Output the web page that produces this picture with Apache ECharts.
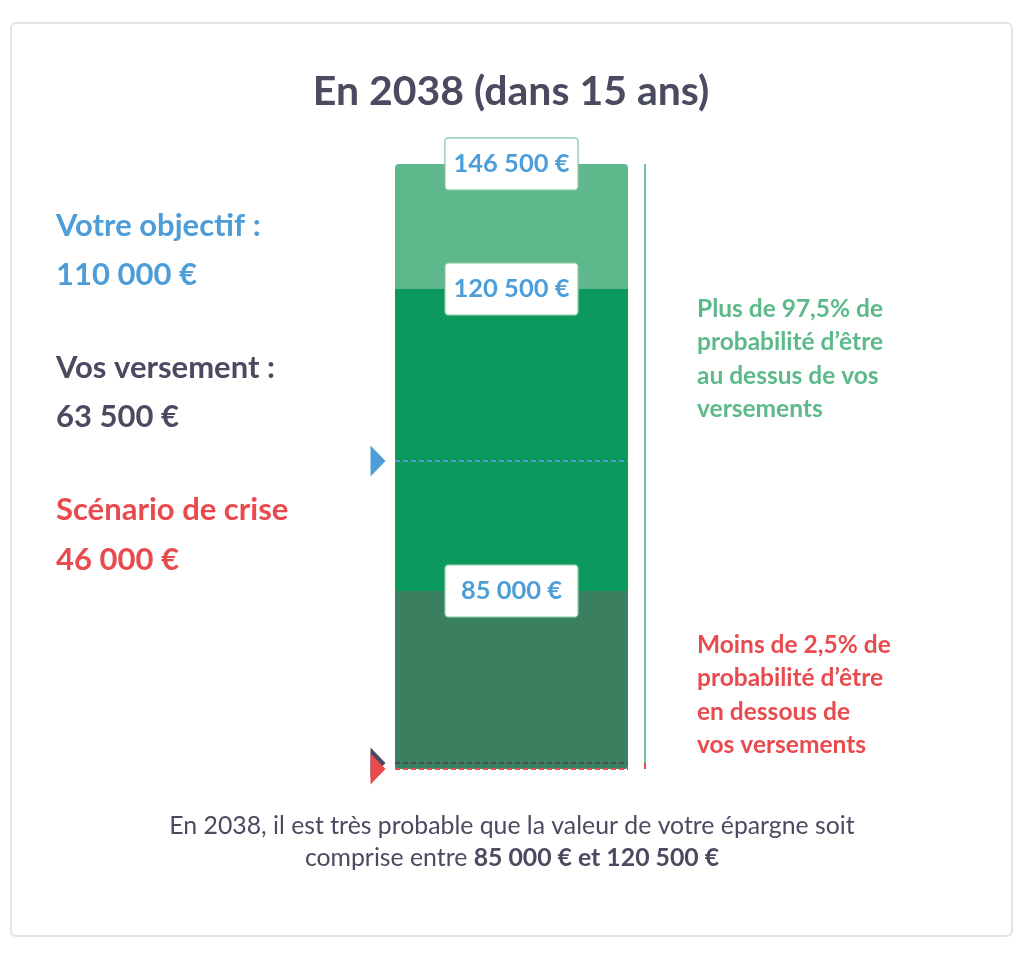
<!DOCTYPE html>
<html><head><meta charset="utf-8">
<script src="https://cdn.jsdelivr.net/npm/echarts@6/dist/echarts.min.js"></script>
<style>
html,body{margin:0;padding:0;background:#fff;}
#card{position:absolute;left:10px;top:22px;width:999px;height:911px;border:2px solid #e4e4e4;border-radius:6px;box-sizing:content-box;}
#chart{position:absolute;left:0;top:0;width:1024px;height:977px;}
</style>
</head><body><div id="card"></div><div id="chart"></div>
<script>
// ---- data ----
const year = [2038];
const horizonYears = [15];
const categories = ['2038'];
const bandBounds = [146500, 120500, 110000, 85000, 63500, 46000]; // descending
const boxValues = [146500, 120500, 85000];
const rangeLow = [85000];
const rangeHigh = [120500];
const objectif = [110000];
const versements = [63500];
const crise = [46000];
const probaAbove = [97.5];
const probaBelow = [2.5];

// ---- layout & style ----
const FONT = 'Lato';
const C = { light: '#5eb88c', mid: '#0c995e', dark: '#3a8060', blue: '#4d9dd8', ink: '#4a4a60', red: '#e84a4e', green: '#5cb98a', lineGreen: '#6dc49b', boxBorder: '#7cc8a0' };
const barLeft = 395, barWidth = 233, barTop = 164, lineLeft = 644, lineWidth = 2;
const bandPx = [125, 172, 130, 172, 6];
const TRI = 'path://M0,0L1,0.5L0,1Z';

const fmtEuro = v => String(v).replace(/\B(?=(\d{3})+(?!\d))/g, ' ') + ' €';
const fmtPct = v => String(v).replace('.', ',') + '%';

const grid = [], xAxis = [], yAxis = [], series = [];
const nb = bandBounds.length - 1;
let tops = [], t = barTop;
for (let i = 0; i < nb; i++) { tops.push(t); t += bandPx[i]; }

const markers = [
  { v: objectif[0], color: C.blue },
  { v: versements[0], color: C.ink },
  { v: crise[0], color: C.red }
];
function bandOf(v) {
  for (let i = 0; i < nb; i++) if (v > bandBounds[i + 1] && v <= bandBounds[i]) return i;
  return nb - 1;
}
const barGridIdx = [];

for (let i = 0; i < nb; i++) {
  const upper = bandBounds[i], lower = bandBounds[i + 1];
  grid.push({ left: barLeft, width: barWidth, top: tops[i], height: bandPx[i] });
  xAxis.push({ type: 'category', data: categories, show: false, gridIndex: grid.length - 1 });
  yAxis.push({ type: 'value', min: lower, max: upper, show: false, gridIndex: grid.length - 1 });
  barGridIdx.push(grid.length - 1);
  const color = upper <= rangeLow[0] ? C.dark : (upper <= rangeHigh[0] ? C.mid : C.light);
  const radius = i === 0 ? [4, 4, 0, 0] : (i === nb - 1 ? [0, 0, 3, 3] : 0);
  const ml = markers.filter(m => bandOf(m.v) === i).map(m => ({
    yAxis: m.v,
    lineStyle: { color: m.color, type: [5, 3], width: 2 },
  }));
  series.push({
    type: 'bar', xAxisIndex: grid.length - 1, yAxisIndex: grid.length - 1,
    data: [upper], barWidth: '100%', silent: true,
    itemStyle: { color: color, borderRadius: radius },
    label: {
      show: boxValues.includes(upper), position: ['50%', 0], align: 'center', verticalAlign: 'middle',
      formatter: () => fmtEuro(upper),
      fontFamily: FONT, fontWeight: 'bold', fontSize: 25.5, color: C.blue,
      backgroundColor: '#fff', borderColor: C.boxBorder, borderWidth: 1.2, borderRadius: 3,
      width: 116, padding: [12, 8, 12, 8], lineHeight: 27
    },
    markLine: ml.length ? {
      silent: true, animation: false, symbol: 'none',
      label: { show: false },
      data: ml
    } : undefined
  });
  grid.push({ left: lineLeft, width: lineWidth, top: tops[i], height: bandPx[i] });
  xAxis.push({ type: 'category', data: categories, show: false, gridIndex: grid.length - 1 });
  yAxis.push({ type: 'value', min: lower, max: upper, show: false, gridIndex: grid.length - 1 });
  series.push({
    type: 'bar', xAxisIndex: grid.length - 1, yAxisIndex: grid.length - 1,
    data: [upper], barWidth: '100%', silent: true,
    itemStyle: { color: lower >= versements[0] ? C.lineGreen : C.red }
  });
}

// triangle markers left of the bar
markers.forEach(m => {
  const gi = barGridIdx[bandOf(m.v)];
  series.push({
    type: 'scatter', xAxisIndex: gi, yAxisIndex: gi, clip: false, silent: true, z: 5,
    data: [[categories[0], m.v]],
    symbol: TRI, symbolSize: [15, 31], symbolOffset: [-(barWidth / 2 + 17), 0],
    itemStyle: { color: m.color, opacity: 1 }
  });
});

const titles = [
  { text: `En ${year[0]} (dans ${horizonYears[0]} ans)`, left: 511, top: 67, textAlign: 'center', padding: 0,
    textStyle: { fontFamily: FONT, fontWeight: 'bold', fontSize: 41, color: C.ink, lineHeight: 50 } },
  { text: 'Votre objectif :\n' + fmtEuro(objectif[0]), left: 56, top: 201, padding: 0,
    textStyle: { fontFamily: FONT, fontWeight: 'bold', fontSize: 31, color: C.blue, lineHeight: 49 } },
  { text: 'Vos versement :\n' + fmtEuro(versements[0]), left: 56, top: 343, padding: 0,
    textStyle: { fontFamily: FONT, fontWeight: 'bold', fontSize: 31, color: C.ink, lineHeight: 49 } },
  { text: 'Scénario de crise\n' + fmtEuro(crise[0]), left: 56, top: 485, padding: 0,
    textStyle: { fontFamily: FONT, fontWeight: 'bold', fontSize: 31, color: C.red, lineHeight: 50 } },
  { text: `Plus de ${fmtPct(probaAbove[0])} de\nprobabilité d’être\nau dessus de vos\nversements`, left: 697, top: 292, padding: 0,
    textStyle: { fontFamily: FONT, fontWeight: 'bold', fontSize: 24.5, color: C.green, lineHeight: 33.5 } },
  { text: `Moins de ${fmtPct(probaBelow[0])} de\nprobabilité d’être\nen dessous de\nvos versements`, left: 697, top: 628, padding: 0,
    textStyle: { fontFamily: FONT, fontWeight: 'bold', fontSize: 24.5, color: C.red, lineHeight: 33.5 } },
  { text: `En ${year[0]}, il est très probable que la valeur de votre épargne soit\ncomprise entre {b|${fmtEuro(rangeLow[0])} et ${fmtEuro(rangeHigh[0])}}`,
    left: 512, top: 810, textAlign: 'center', padding: 0,
    textStyle: { fontFamily: FONT, fontWeight: 'normal', fontSize: 24.8, color: C.ink, lineHeight: 32,
      rich: { b: { fontFamily: FONT, fontSize: 24.8, fontWeight: 'bold', color: C.ink, lineHeight: 32 } } } }
];

const chart = echarts.init(document.getElementById('chart'), null, { renderer: 'canvas' });
chart.setOption({
  animation: false,
  backgroundColor: 'transparent',
  title: titles,
  grid, xAxis, yAxis, series
});
</script></body></html>
